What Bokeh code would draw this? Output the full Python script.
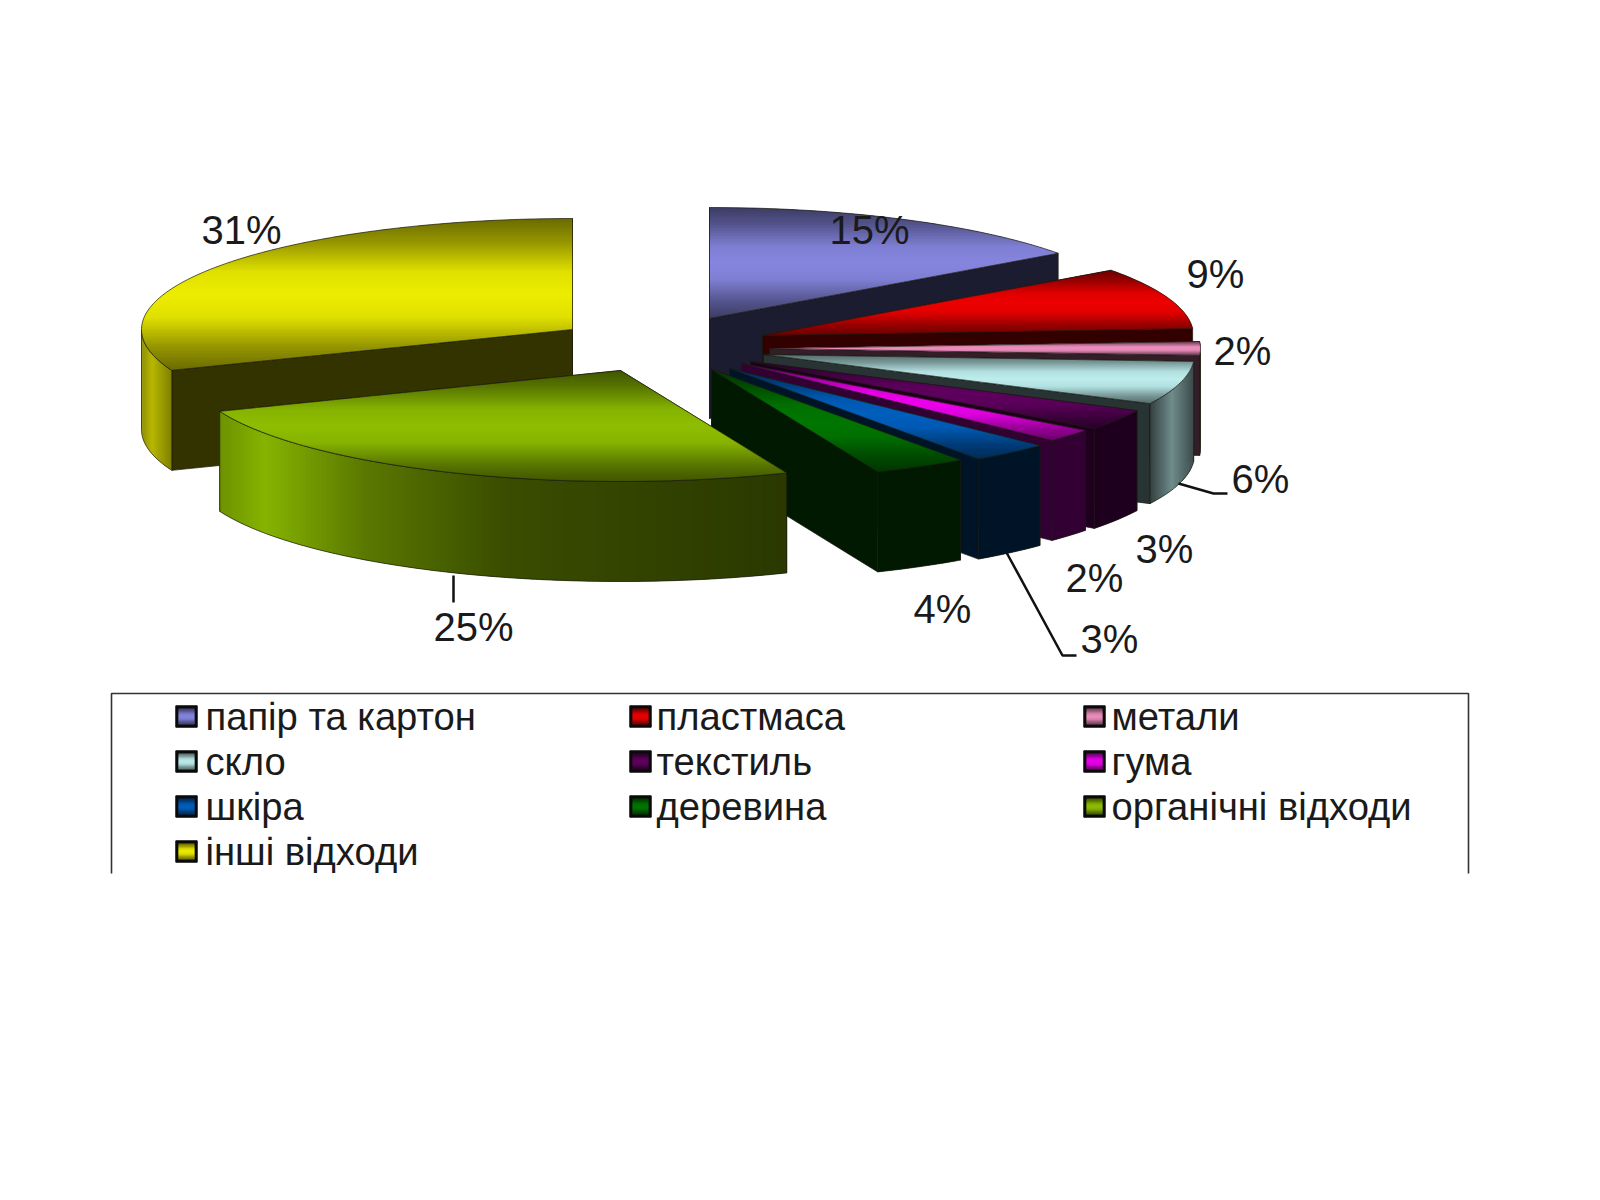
import numpy as np
from bokeh.plotting import figure
from bokeh.core.properties import value
from bokeh.embed import file_html
from bokeh.resources import INLINE

CATEGORIES = ["папір та картон", "пластмаса", "метали", "скло", "текстиль",
              "гума", "шкіра", "деревина", "органічні відходи", "інші відходи"]
# slice sizes; the printed labels are these values rounded
VALUES = [15, 9, 2, 6.3, 3, 1.9, 3, 3.5, 25.3, 31]
LABELS = ["15%", "9%", "2%", "6%", "3%", "2%", "3%", "4%", "25%", "31%"]
BASE_COLORS = [(144, 144, 240), (255, 0, 0), (255, 153, 204), (204, 255, 255), (102, 0, 102),
               (255, 0, 255), (0, 102, 204), (0, 128, 0), (153, 204, 0), (255, 255, 0)]

# layout: page pixels
APEX_X = [709, 762, 769, 763, 750, 741, 729, 711, 620, 572]
APEX_Y = [318, 335, 348, 354, 361, 363, 368, 369, 370, 329]
RX, RY, DEPTH = 431, 111, 100
PAINT_ORDER = [9, 0, 1, 2, 3, 4, 5, 6, 7, 8]
LABEL_X = [869, 1215, 1242, 1260, 1164, 1094, 1109, 942, 473, 241]
LABEL_Y = [229, 273, 350, 478, 548, 577, 638, 608, 626, 229]
LEADERS = [([453, 453], [575, 602]),
           ([1178, 1213, 1227], [483, 493, 493]),
           ([1006, 1062, 1076], [552, 655, 655])]
TOP_STOPS = [(0, .42), (.15, .58), (.35, .88), (.5, .93), (.65, .88), (.85, .58), (1, .42)]
WALL = [(0, .2), (1, .2)]
OUTER_STOPS = {3: [(0, .25), (.5, .55), (1, .3)],
               4: [(0, .3), (1, .3)],
               8: [(0, .72), (.08, .88), (.25, .6), (.5, .38), (1, .28)],
               9: [(0, .55), (.35, .72), (1, .5)]}
LEG_X = [186, 640, 1094]
LEG_Y = [716, 761, 806, 851]
LEG_TEXT = [205, 656, 1111]
SW_OUT, SW_IN = 10.7, 8.0


def shade(base, f):
    return "#%02x%02x%02x" % tuple(int(min(255, c * f)) for c in base)


def interp(stops, t):
    return float(np.interp(t, [s[0] for s in stops], [s[1] for s in stops]))


def clip(pts, y, keep_below):
    out = []
    n = len(pts)
    inside = (lambda q: q[1] >= y) if keep_below else (lambda q: q[1] <= y)
    for i in range(n):
        a, b = pts[i], pts[(i + 1) % n]
        ia, ib = inside(a), inside(b)
        if ia:
            out.append(a)
        if ia != ib:
            s = (y - a[1]) / (b[1] - a[1])
            out.append((a[0] + s * (b[0] - a[0]), y))
    return out


def bands(pts, base, n=70):
    ys = [q[1] for q in pts]
    y0, y1 = min(ys), max(ys)
    xs_out, ys_out, cs = [], [], []
    step = (y1 - y0) / n
    for i in range(n):
        a = y0 + i * step
        poly = clip(clip(pts, a, True), y1, False) if i == n - 1 else clip(clip(pts, a, True), a + step + 1.2, False)
        if len(poly) < 3:
            continue
        xs_out.append([q[0] for q in poly])
        ys_out.append([q[1] for q in poly])
        cs.append(shade(base, interp(TOP_STOPS, (i + .5) / n)))
    return xs_out, ys_out, cs


p = figure(width=1584, height=1184, x_range=(0, 1584), y_range=(1184, 0),
           output_backend="svg", toolbar_location=None, min_border=0,
           outline_line_color=None, background_fill_color="white", border_fill_color="white")
p.xaxis.visible = False
p.yaxis.visible = False
p.grid.visible = False

fractions = np.array(VALUES) / sum(VALUES) * 360
ends = np.cumsum(fractions)
starts = ends - fractions


def pt(i, deg):
    r = np.radians(deg)
    return (APEX_X[i] + RX * np.sin(r), APEX_Y[i] - RY * np.cos(r))


OUTLINE = "#1a1a10"
for i in PAINT_ORDER:
    a1, a2, base = starts[i], ends[i], BASE_COLORS[i]
    ax, ay = APEX_X[i], APEX_Y[i]
    mid = (a1 + a2) / 2
    # radial walls: the one that faces the viewer is painted last
    order = [a1, a2] if mid < 180 else [a2, a1]
    for deg in order:
        ex, ey = pt(i, deg)
        p.patch([ax, ex, ex, ax], [ay, ey, ey + DEPTH, ay + DEPTH],
                fill_color=shade(base, interp(OUTER_STOPS.get(4 if i == 4 else -1, WALL), 0)),
                line_color=OUTLINE, line_width=.7)
    # outer wall
    lo, hi = max(a1, 90), min(a2, 270)
    if hi > lo:
        degs = np.linspace(lo, hi, max(int(hi - lo) * 2, 8) + 1)
        arc = [pt(i, d) for d in degs]
        xmin, xmax = min(q[0] for q in arc), max(q[0] for q in arc)
        stops = OUTER_STOPS.get(i, WALL)
        xs_, ys_, cs_ = [], [], []
        for j in range(len(arc) - 1):
            q0, q1 = arc[j], arc[min(j + 2, len(arc) - 1)]
            mx = (arc[j][0] + arc[j + 1][0]) / 2
            xs_.append([q0[0], q1[0], q1[0], q0[0]])
            ys_.append([q0[1], q1[1], q1[1] + DEPTH, q0[1] + DEPTH])
            cs_.append(shade(base, interp(stops, (mx - xmin) / max(xmax - xmin, 1))))
        p.patches(xs_, ys_, fill_color=cs_, line_color=None)
        outline_x = [q[0] for q in arc] + [q[0] for q in arc[::-1]]
        outline_y = [q[1] + DEPTH for q in arc] + [q[1] for q in arc[::-1]]
        p.line(outline_x + outline_x[:1], outline_y + outline_y[:1], line_color=OUTLINE, line_width=.7)
    # top face
    degs = np.linspace(a1, a2, max(int(a2 - a1), 4) + 1)
    poly = [(float(ax), float(ay))] + [pt(i, d) for d in degs]
    xs_, ys_, cs_ = bands(poly, base)
    p.patches(xs_, ys_, fill_color=cs_, line_color=None)
    p.line([q[0] for q in poly] + [poly[0][0]], [q[1] for q in poly] + [poly[0][1]],
           line_color=OUTLINE, line_width=.7)

for lx, ly in LEADERS:
    p.line(lx, ly, line_color="#111111", line_width=2.5)

p.text(LABEL_X, LABEL_Y, text=LABELS, text_font=value("Liberation Sans"),
       text_font_size="40px", text_align="center", text_baseline="middle", text_color="#1a1a1a")

# legend frame, cut off at its lower edge like the reference
p.line([111, 111, 1468, 1468], [873, 693, 693, 873], line_color="#333333", line_width=1.6)

for k, name in enumerate(CATEGORIES):
    col, row = k % 3, k // 3
    cx, cy = LEG_X[col], LEG_Y[row]
    p.patch([cx - SW_OUT, cx + SW_OUT, cx + SW_OUT, cx - SW_OUT],
            [cy - SW_OUT, cy - SW_OUT, cy + SW_OUT, cy + SW_OUT],
            fill_color="#0a0a0a", line_color="#0a0a0a", line_width=1)
    square = [(cx - SW_IN, cy - SW_IN), (cx + SW_IN, cy - SW_IN),
              (cx + SW_IN, cy + SW_IN), (cx - SW_IN, cy + SW_IN)]
    xs_, ys_, cs_ = bands(square, BASE_COLORS[k], 8)
    p.patches(xs_, ys_, fill_color=cs_, line_color=None)
    p.text([LEG_TEXT[col]], [cy], text=[name], text_font=value("Liberation Sans"),
           text_font_size="38.2px", text_align="left", text_baseline="middle", text_color="#1a1a1a")

open("out.html", "w").write(file_html(p, INLINE))
